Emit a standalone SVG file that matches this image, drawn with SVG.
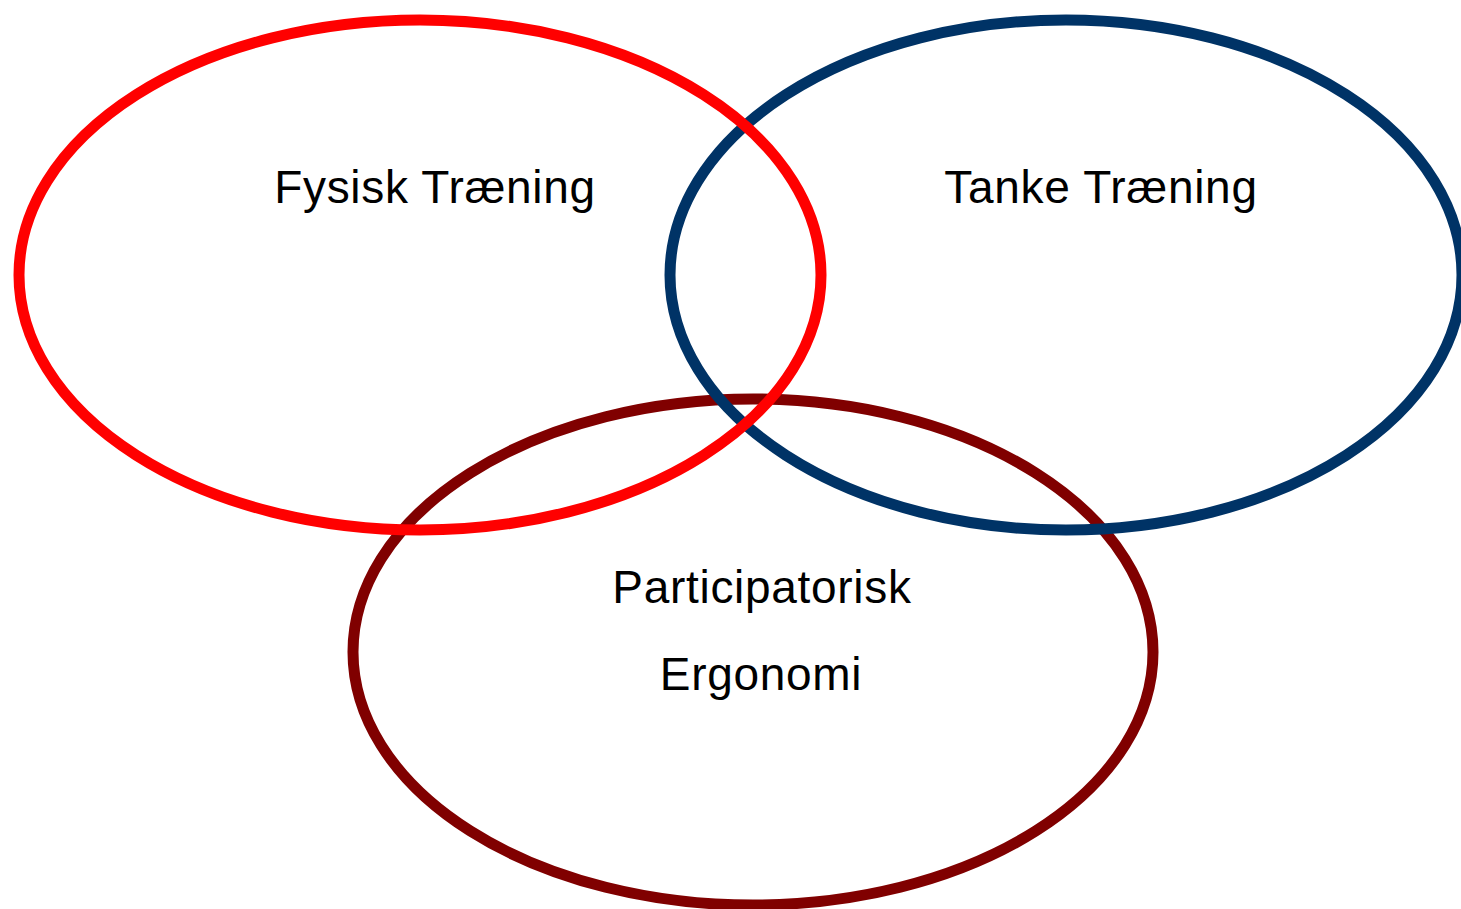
<svg xmlns="http://www.w3.org/2000/svg" width="1461" height="909" viewBox="0 0 1461 909">
<style>
.c{fill:none;stroke-width:11}
.t{font-family:"Liberation Sans",Arial,sans-serif;font-size:46px;fill:#000;text-anchor:middle;letter-spacing:0.7px}
</style>
<rect width="1461" height="909" fill="#fff"/>
<g id="ergonomi">
<ellipse class="c" cx="753" cy="652" rx="400" ry="253" stroke="#800000"/>
<text class="t" x="762" y="603">Participatorisk</text>
<text class="t" x="761" y="690">Ergonomi</text>
</g>
<g id="tanke">
<ellipse class="c" cx="1066" cy="275" rx="396" ry="255" stroke="#003366"/>
<text class="t" x="1101" y="203">Tanke Træning</text>
</g>
<g id="fysisk">
<ellipse class="c" cx="420" cy="275" rx="401" ry="255" stroke="#ff0000"/>
<text class="t" x="435" y="203">Fysisk Træning</text>
</g>
<g id="connectors"/>
</svg>
